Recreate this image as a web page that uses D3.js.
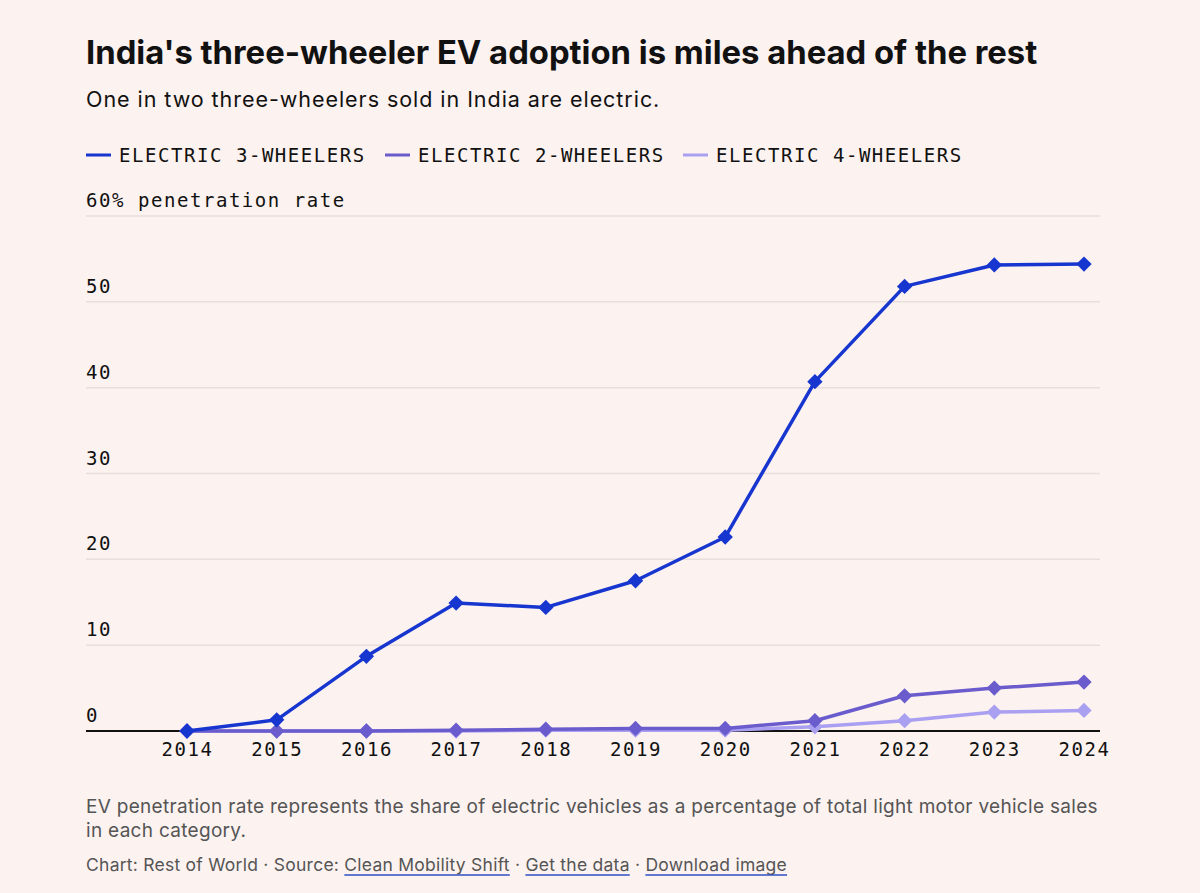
<!DOCTYPE html>
<html><head><meta charset="utf-8">
<script src="https://cdn.jsdelivr.net/npm/d3@7"></script>
<style>
html,body{margin:0;padding:0;background:#fcf2f0;}
svg{display:block;}
</style></head>
<body>
<svg id="chart" width="1200" height="893"></svg>
<script>
const years = [2014,2015,2016,2017,2018,2019,2020,2021,2022,2023,2024];
const threeWheelers = [0,1.3,8.7,14.9,14.4,17.5,22.6,40.7,51.8,54.3,54.4];
const twoWheelers = [0,0,0,0.1,0.2,0.3,0.3,1.2,4.1,5.0,5.7];
const fourWheelers = [0,0,0,0,0.1,0.1,0.1,0.5,1.2,2.2,2.4];
const seriesNames = ["ELECTRIC 3-WHEELERS","ELECTRIC 2-WHEELERS","ELECTRIC 4-WHEELERS"];
const seriesColors = ["#1735cf","#6a5ccc","#aaa0f2"];
const yTicks = [0,10,20,30,40,50,60];

const mono = "'DejaVu Sans Mono', 'Liberation Mono', monospace";
const sans = "Inter, 'Noto Sans', sans-serif";

const svg = d3.select("#chart");
const left = 86, right = 1100;
const x = d3.scaleLinear().domain([2014,2024]).range([187,1084]);
const y = d3.scaleLinear().domain([0,60]).range([731,216]);

// Title & subtitle
svg.append("text").attr("x",left).attr("y",64).attr("font-family",sans)
  .attr("font-weight",700).attr("font-size",32.8).attr("fill","#111")
  .text("India's three-wheeler EV adoption is miles ahead of the rest");
svg.append("text").attr("x",left).attr("y",107).attr("font-family",sans)
  .attr("font-size",21.5).attr("letter-spacing","0.95px").attr("fill","#111")
  .text("One in two three-wheelers sold in India are electric.");

// Legend
const legendX = [86,385,683];
seriesNames.forEach((n,i)=>{
  const g = svg.append("g").attr("transform",`translate(${legendX[i]},155)`);
  g.append("line").attr("x1",0).attr("x2",25).attr("y1",0).attr("y2",0)
    .attr("stroke",seriesColors[i]).attr("stroke-width",3);
  g.append("text").attr("x",33).attr("y",7).attr("font-family",mono)
    .attr("font-size",19).attr("letter-spacing","1.55px").attr("fill","#111").text(n);
});

// Gridlines and y labels
const grid = svg.append("g");
yTicks.forEach(t=>{
  if(t>0){
    grid.append("line").attr("x1",left).attr("x2",right).attr("y1",y(t)).attr("y2",y(t))
      .attr("stroke","#e8dfdd").attr("stroke-width",1.5);
  }
  grid.append("text").attr("x",left).attr("y",y(t)-9).attr("font-family",mono)
    .attr("font-size",19).attr("letter-spacing","1.55px").attr("fill","#111")
    .text(t===60 ? "60% penetration rate" : t);
});

// X axis labels
const xAxis = d3.axisBottom(x).tickValues(years).tickFormat(d3.format("d")).tickSize(0).tickPadding(12);
const xg = svg.append("g").attr("transform",`translate(0,${y(0)})`).call(xAxis);
xg.select(".domain").remove();
xg.selectAll("text").attr("font-family",mono).attr("font-size",19)
  .attr("letter-spacing","1.55px").attr("fill","#111");

// Zero baseline
svg.append("line").attr("x1",left).attr("x2",right).attr("y1",y(0)).attr("y2",y(0))
  .attr("stroke","#111").attr("stroke-width",2);

// Lines
const allSeries = [threeWheelers,twoWheelers,fourWheelers];
const line = d3.line().x((d,i)=>x(years[i])).y(d=>y(d));
const diamond = d3.symbol().type(d3.symbolDiamond2).size(150);
[2,1,0].forEach(si=>{
  const g = svg.append("g");
  g.append("path").datum(allSeries[si]).attr("d",line).attr("fill","none")
    .attr("stroke",seriesColors[si]).attr("stroke-width",3.5).attr("stroke-linejoin","round");
  g.selectAll("path.m").data(allSeries[si]).join("path").attr("class","m")
    .attr("d",diamond)
    .attr("transform",(d,i)=>`translate(${x(years[i])},${y(d)})`)
    .attr("fill",seriesColors[si]);
});

// Footnote
const note = ["EV penetration rate represents the share of electric vehicles as a percentage of total light motor vehicle sales","in each category."];
note.forEach((t,i)=>{
  svg.append("text").attr("x",left).attr("y",813+i*24).attr("font-family",sans)
    .attr("font-size",19).attr("letter-spacing","0.3px").attr("fill","#555").text(t);
});

// Source line
const parts = [["Chart: Rest of World · Source: ",false],["Clean Mobility Shift",true],[" · ",false],["Get the data",true],[" · ",false],["Download image",true]];
let cx = left;
parts.forEach(([t,link])=>{
  const el = svg.append("text").attr("x",cx).attr("y",871).attr("font-family",sans)
    .attr("font-size",17.5).attr("letter-spacing","0.25px").attr("fill","#555")
    .attr("xml:space","preserve").style("white-space","pre").text(t);
  const w = el.node().getComputedTextLength();
  if(link){
    svg.append("line").attr("x1",cx).attr("x2",cx+w).attr("y1",875).attr("y2",875)
      .attr("stroke","#2f4fc4").attr("stroke-width",1.3);
  }
  cx += w;
});
</script>
</body></html>
